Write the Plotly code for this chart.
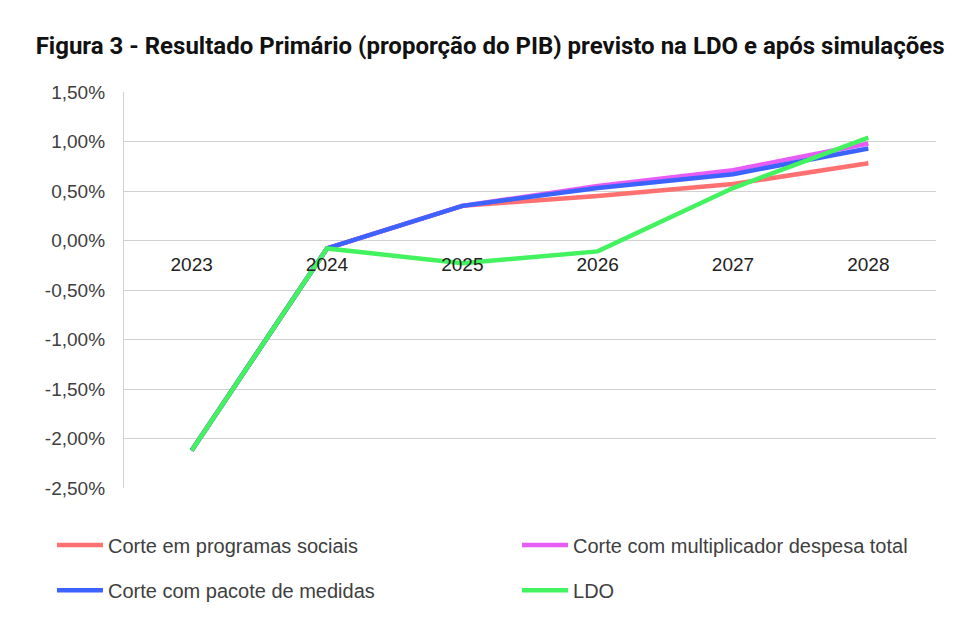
import plotly.graph_objects as go

years = ["2023", "2024", "2025", "2026", "2027", "2028"]
corte_sociais = [-2.12, -0.08, 0.35, 0.45, 0.57, 0.78]
corte_multiplicador = [-2.12, -0.08, 0.35, 0.55, 0.71, 0.98]
corte_pacote = [-2.12, -0.08, 0.35, 0.53, 0.67, 0.93]
ldo = [-2.12, -0.08, -0.23, -0.11, 0.53, 1.04]

y_tickvals = [1.5, 1.0, 0.5, 0.0, -0.5, -1.0, -1.5, -2.0, -2.5]
y_ticktext = ["1,50%", "1,00%", "0,50%", "0,00%", "-0,50%", "-1,00%", "-1,50%", "-2,00%", "-2,50%"]

series = [
    ("Corte em programas sociais", corte_sociais, "#FF7171", "legend"),
    ("Corte com multiplicador despesa total", corte_multiplicador, "#E65CF5", "legend2"),
    ("Corte com pacote de medidas", corte_pacote, "#3D63FF", "legend3"),
    ("LDO", ldo, "#42F25E", "legend4"),
]

fig = go.Figure()
for name, vals, color, lg in series:
    fig.add_trace(go.Scatter(
        x=years, y=vals, name=name, mode="lines",
        line=dict(color=color, width=4.5),
        legend=lg,
    ))

legend_common = dict(
    orientation="h",
    xanchor="left",
    yanchor="middle",
    font=dict(family="Liberation Sans, Arial, sans-serif", size=20, color="#404040"),
    bgcolor="rgba(0,0,0,0)",
    itemwidth=46,
)

fig.update_layout(
    width=972, height=642,
    margin=dict(l=116, r=44, t=84, b=162),
    paper_bgcolor="white", plot_bgcolor="white",
    title=dict(
        text="<b>Figura 3 - Resultado Primário (proporção do PIB) previsto na LDO e após simulações</b>",
        x=0.496, xanchor="center", y=0.942, yanchor="middle",
        font=dict(family="Roboto, sans-serif", size=24, color="#111111"),
    ),
    legend=dict(legend_common, x=-0.0887, y=-0.144),
    legend2=dict(legend_common, x=0.484, y=-0.144),
    legend3=dict(legend_common, x=-0.0887, y=-0.258),
    legend4=dict(legend_common, x=0.484, y=-0.258),
    xaxis=dict(
        type="category",
        range=[-0.5, 5.5],
        anchor="free", position=0.625,
        showgrid=False, showline=False, zeroline=False,
        ticks="",
        tickfont=dict(family="Liberation Sans, Arial, sans-serif", size=19, color="#222222"),
        ticklabelstandoff=10,
    ),
    yaxis=dict(
        range=[-2.5, 1.5],
        tickvals=y_tickvals, ticktext=y_ticktext,
        showgrid=True, gridcolor="#D0D0D0", gridwidth=1.3,
        zeroline=False,
        showline=True, linecolor="#D0D0D0", linewidth=1.3,
        ticks="",
        tickfont=dict(family="Liberation Sans, Arial, sans-serif", size=19, color="#404040"),
        ticklabelstandoff=14,
    ),
    showlegend=True,
)

fig.write_html("out.html")
